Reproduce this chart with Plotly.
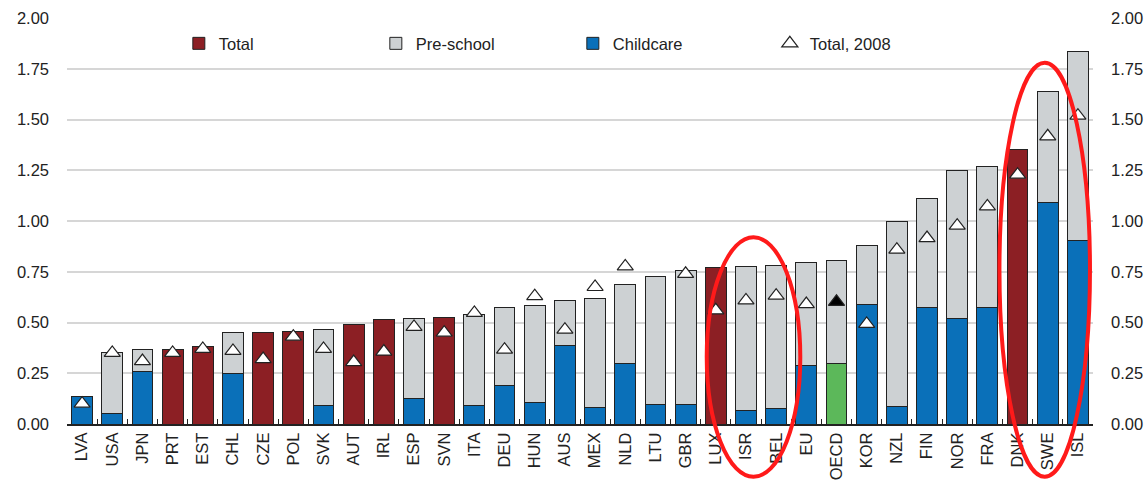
import plotly.graph_objects as go

countries = ["LVA","USA","JPN","PRT","EST","CHL","CZE","POL","SVK","AUT","IRL","ESP","SVN",
             "ITA","DEU","HUN","AUS","MEX","NLD","LTU","GBR","LUX","ISR","BEL","EU","OECD",
             "KOR","NZL","FIN","NOR","FRA","DNK","SWE","ISL"]
# Total (only where no breakdown is available)
total_only = [None,None,None,0.366,0.38,None,0.45,0.455,None,0.49,0.517,None,0.524,
              None,None,None,None,None,None,None,None,0.771,None,None,None,None,
              None,None,None,None,None,1.353,None,None]
# Childcare component
childcare = [0.136,0.05,0.26,None,None,0.25,None,None,0.093,None,None,0.125,None,
             0.09,0.189,0.108,0.389,0.079,0.297,0.098,0.094,None,0.066,0.074,0.287,0.30,
             0.591,0.087,0.574,0.52,0.574,None,1.09,0.904]
# Total of childcare + pre-school (bar top)
stack_total = [0.136,0.35,0.366,None,None,0.45,None,None,0.468,None,None,0.519,None,
               0.537,0.575,0.584,0.609,0.619,0.686,0.729,0.757,None,0.776,0.781,0.798,0.804,
               0.88,1.0,1.111,1.251,1.267,None,1.637,1.835]
# Total, 2008
total_2008 = [0.10,0.35,0.31,0.35,0.37,0.36,0.32,0.43,0.37,0.305,0.357,0.478,0.45,
              0.547,0.366,0.63,0.465,0.675,0.776,None,0.74,0.56,0.609,0.632,0.591,0.602,
              0.493,0.859,0.916,0.977,1.072,1.228,1.417,1.519]

preschool = [None if (t is None or c is None) else round(t - c, 3) for t, c in zip(stack_total, childcare)]

RED = "#8C1F24"
GREY = "#CDD1D3"
BLUE = "#0A70B9"
GREEN = "#5CB85A"

blue_colors = [GREEN if c == "OECD" else BLUE for c in countries]
tri_colors = ["black" if c == "OECD" else "white" for c in countries]

FONT = "Liberation Sans, Arial, sans-serif"
OUT = dict(color="#222222", width=1)

fig = go.Figure()
fig.add_trace(go.Bar(x=countries, y=total_only, name="Total", legendrank=1,
                     marker=dict(color=RED, line=OUT)))
fig.add_trace(go.Bar(x=countries, y=childcare, name="Childcare", legendrank=3,
                     marker=dict(color=blue_colors, line=OUT)))
fig.add_trace(go.Bar(x=countries, y=preschool, name="Pre-school", legendrank=2,
                     marker=dict(color=GREY, line=OUT)))
fig.add_trace(go.Scatter(x=countries, y=total_2008, name="Total, 2008", mode="markers",
                         legendrank=4,
                         marker=dict(symbol="triangle-up", size=14, color=tri_colors,
                                     line=dict(color="#222222", width=1.2))))
# invisible trace to show the right-hand axis
fig.add_trace(go.Scatter(x=countries, y=[None] * len(countries), yaxis="y2",
                         showlegend=False, hoverinfo="skip", mode="markers"))

fig.update_layout(
    barmode="stack",
    bargap=0.31,
    width=1145, height=481,
    margin=dict(l=67, r=52, t=18, b=57),
    plot_bgcolor="white", paper_bgcolor="white",
    font=dict(family=FONT, size=16.5, color="#222222"),
    legend=dict(orientation="h", x=0.109, y=0.98, xanchor="left", yanchor="top",
                entrywidth=152, entrywidthmode="pixels", traceorder="normal",
                font=dict(size=16.5), bgcolor="rgba(0,0,0,0)"),
    xaxis=dict(tickangle=-90, ticks="inside", tickson="boundaries", ticklen=5,
               tickcolor="#222222", showline=True, linecolor="#222222", linewidth=2,
               showgrid=False, automargin=False, tickfont=dict(size=16.5),
               range=[-0.5, len(countries) - 0.5], autorange=False),
    yaxis=dict(range=[0, 2], dtick=0.25, tickformat=".2f", showgrid=True,
               gridcolor="#D6D6D6", gridwidth=1.5, zeroline=False, showline=False,
               ticks="", ticklabelstandoff=17, automargin=False),
    yaxis2=dict(range=[0, 2], dtick=0.25, tickformat=".2f", overlaying="y", side="right",
                showgrid=False, zeroline=False, showline=False, ticks="",
                ticklabelstandoff=17, automargin=False),
)

# hand-drawn red circles from the reference
fig.add_shape(type="circle", xref="x", yref="paper", x0=20.7, x1=23.8, y0=-0.13, y1=0.46,
              line=dict(color="#FF1A1A", width=4))
fig.add_shape(type="circle", xref="x", yref="paper", x0=30.4, x1=33.4, y0=-0.13, y1=0.89,
              line=dict(color="#FF1A1A", width=4))

fig.write_html("out.html", config={"displayModeBar": False},
               post_script="document.body.style.margin='0';document.body.style.overflow='hidden';")
